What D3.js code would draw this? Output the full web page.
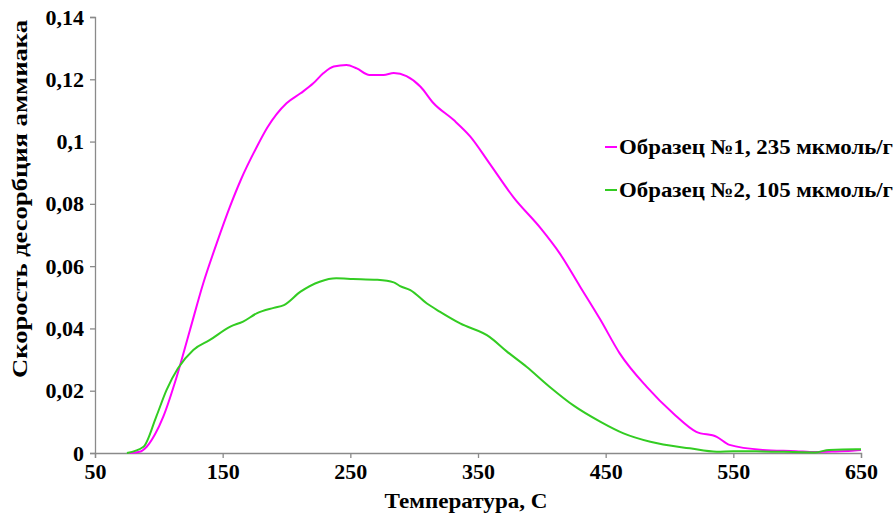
<!DOCTYPE html>
<html>
<head>
<meta charset="utf-8">
<script src="https://cdn.jsdelivr.net/npm/d3@7"></script>
<style>
  body { margin: 0; background: #fff; }
  text { font-family: "Liberation Serif", "Times New Roman", serif; font-weight: bold; fill: #000; }
</style>
</head>
<body>
<svg id="chart"></svg>
<script>
// sample 1 (magenta)
const temp1 = [77, 85, 90.5, 97, 103.5, 114, 124.4, 134.8, 145.3, 155.7, 164, 177, 185, 200, 211, 221, 229, 237, 247,
  255, 265, 276, 284, 294, 305, 315, 331, 344, 359, 378, 399, 414, 430, 446, 461, 482, 503, 521, 537,
  547, 573, 599, 614, 630, 645, 650]
const rate1 = [0, 0.0004, 0.002, 0.006, 0.0117, 0.0245, 0.0395, 0.0545, 0.0673, 0.0791, 0.0875, 0.0985, 0.1045, 0.1123, 0.1155, 0.1187, 0.122, 0.1241, 0.1246,
  0.1235, 0.1214, 0.1214, 0.122, 0.121, 0.1176, 0.1124, 0.1069, 0.1016, 0.093, 0.082, 0.0722, 0.0641, 0.0534, 0.0427, 0.032, 0.0213, 0.0127, 0.0068, 0.0052,
  0.0026, 0.001, 0.0006, 0.0003, 0.0005, 0.0008, 0.001]

// sample 2 (green)
const temp2 = [75, 88, 98, 106, 115, 127, 140, 156, 166, 177, 190, 198, 211, 226, 239, 252, 271, 284, 289, 297,
  310, 320, 336, 359, 372, 388, 406, 425, 446, 464, 485, 516, 537, 550, 573, 614, 625, 646, 650]
const rate2 = [0, 0.002, 0.0117, 0.0202, 0.0272, 0.0331, 0.0363, 0.0406, 0.0422, 0.0449, 0.0466, 0.0475, 0.0518, 0.055, 0.0561, 0.0559, 0.0556, 0.0548, 0.0536, 0.0523,
  0.048, 0.0454, 0.0416, 0.0373, 0.0328, 0.0277, 0.0213, 0.0152, 0.0100, 0.0063, 0.0036, 0.0015, 0.0004, 0.0006, 0.0005, 0.0002, 0.001, 0.0012, 0.0012]

const seriesNames = ["Образец №1, 235 мкмоль/г", "Образец №2, 105 мкмоль/г"]
const seriesColors = ["#ff00ff", "#33cc22"]
const xTicks = [50, 150, 250, 350, 450, 550, 650]
const yTicks = [0, 0.02, 0.04, 0.06, 0.08, 0.1, 0.12, 0.14]
const xTitle = "Температура, С"
const yTitle = "Скорость десорбция аммиака"

const W = 895, H = 513
const margin = {top: 17, right: 34, bottom: 60, left: 95}

const svg = d3.select("#chart").attr("width", W).attr("height", H)

const x = d3.scaleLinear().domain([50, 650]).range([margin.left, W - margin.right])
const y = d3.scaleLinear().domain([0, 0.14]).range([H - margin.bottom, margin.top])

const fmt = d => String(d).replace(".", ",")

// axes
const xAxis = svg.append("g")
  .attr("transform", `translate(0, ${y(0)})`)
  .call(d3.axisBottom(x).tickValues(xTicks).tickSizeOuter(0).tickSize(5).tickFormat(d => d))
const yAxis = svg.append("g")
  .attr("transform", `translate(${x(50)}, 0)`)
  .call(d3.axisLeft(y).tickValues(yTicks).tickSizeOuter(0).tickSize(5).tickFormat(fmt))

svg.selectAll(".domain, .tick line").attr("stroke", "#8a8a8a").attr("stroke-width", 1.3)
xAxis.selectAll("text").style("font-size", "22px").attr("dy", "0.85em").attr("y", 7)
yAxis.selectAll("text").style("font-size", "22px").attr("x", -11)

// titles (stretched like the original)
svg.append("text")
  .attr("x", 466).attr("y", 508)
  .attr("text-anchor", "middle")
  .attr("textLength", 163).attr("lengthAdjust", "spacingAndGlyphs")
  .style("font-size", "21px")
  .text(xTitle)

svg.append("text")
  .attr("transform", `translate(27, 199) rotate(-90)`)
  .attr("text-anchor", "middle")
  .attr("textLength", 358).attr("lengthAdjust", "spacingAndGlyphs")
  .style("font-size", "21px")
  .text(yTitle)

// lines
const line = d3.line()
  .x(d => x(d[0]))
  .y(d => y(d[1]))
  .curve(d3.curveMonotoneX)

const series = [
  d3.zip(temp1, rate1),
  d3.zip(temp2, rate2)
]

svg.selectAll(".series")
  .data(series)
  .join("path")
  .attr("class", "series")
  .attr("fill", "none")
  .attr("stroke", (d, i) => seriesColors[i])
  .attr("stroke-width", 2)
  .attr("d", line)

// legend
const legend = svg.selectAll(".legend")
  .data(seriesNames)
  .join("g")
  .attr("class", "legend")
  .attr("transform", (d, i) => `translate(605, ${147 + i * 43})`)

legend.append("line")
  .attr("x1", 0).attr("x2", 12)
  .attr("stroke", (d, i) => seriesColors[i])
  .attr("stroke-width", 2)

legend.append("text")
  .attr("x", 14).attr("dy", "0.35em")
  .attr("textLength", 274).attr("lengthAdjust", "spacingAndGlyphs")
  .style("font-size", "21px")
  .text(d => d)
</script>
</body>
</html>
